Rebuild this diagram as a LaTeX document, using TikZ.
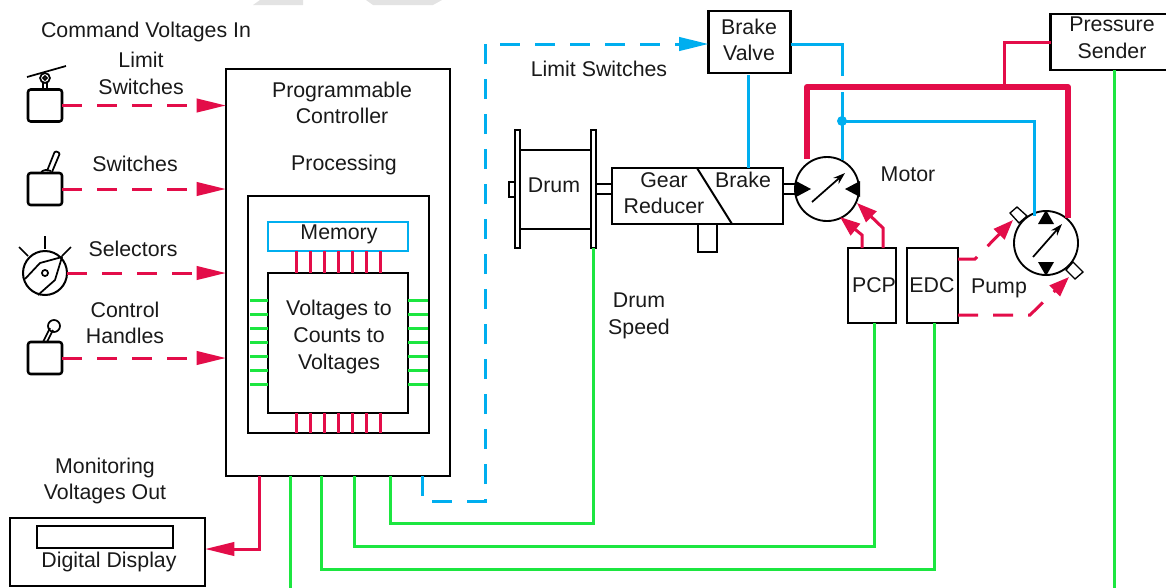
\documentclass[tikz,border=0pt]{standalone}
\usepackage{fontspec}
\setmainfont{Liberation Sans}
\usetikzlibrary{calc,arrows.meta}
\definecolor{wirered}{RGB}{227,13,73}
\definecolor{wireblue}{RGB}{0,174,239}
\definecolor{wiregreen}{RGB}{28,230,64}
\tikzset{
  lbl/.style={inner sep=0pt,align=center,font=\fontsize{16}{20}\selectfont,text=black!90},
  blk/.style={draw=black,line width=1.9pt,inner sep=0pt,outer sep=0pt,rectangle},
  thinblk/.style={draw=black,line width=1.3pt},
  redwire/.style={draw=wirered,line width=2.25pt},
  fatred/.style={draw=wirered,line width=4.5pt,line join=round},
  bluewire/.style={draw=wireblue,line width=2.25pt},
  greenwire/.style={draw=wiregreen,line width=2.25pt},
  longdash/.style={dash pattern=on 15pt off 11.25pt},
  bigtip/.style={-{Triangle[length=22pt,width=10pt]}},
  smalltip/.style={-{Triangle[length=15pt,width=11pt]}},
  hub/.style={circle,draw=black,line width=1.4pt,fill=white,minimum size=48pt,inner sep=0pt,outer sep=0pt},
  lever/.style={draw=black,line width=1.9pt,rounded corners=2pt,fill=white}
}
\begin{document}
\begin{tikzpicture}[x=0.75pt,y=-0.75pt]
\path[use as bounding box,clip] (0,0) rectangle (1166,587);
\fill[black!11] (253,5) -- (260,0) -- (303,0) -- (303,5) -- cycle;
\fill[black!11] (366,0) -- (373,5) -- (433,5) -- (442,0) -- cycle;

% controller
\node[blk,minimum width=168pt,minimum height=305.25pt] (ctrl) at (338,272.5) {};
\node[blk,minimum width=135.75pt,minimum height=177.75pt] (frame) at (338.5,314.5) {};
\node[blk,draw=wireblue,minimum width=105pt,minimum height=21.75pt] (mem) at (338,236.5) {};
\node[blk,minimum width=105pt,minimum height=105pt] (proc) at (338,343) {};
\foreach \i in {0,...,6}
{
\draw[redwire] (296+14*\i,251) -- (296+14*\i,273);
\draw[redwire] (296+14*\i,413) -- (296+14*\i,433);
\draw[greenwire] (250,300+14*\i) -- (268,300+14*\i);
\draw[greenwire] (408,300+14*\i) -- (428,300+14*\i);
}
\node[lbl] (progLbl) at (342,103) {Programmable\\Controller};
\node[lbl] (procLbl) at (344,165) {Processing};
\node[lbl] (memLbl) at (339,234) {Memory};
\node[lbl] (voltLbl) at (339,337) {Voltages to\\Counts to\\Voltages};

% inputs
\node[lever,minimum width=25.5pt,minimum height=24pt,inner sep=0pt,outer sep=0pt] (limitBox) at (45,105.5) {};
\node[lever,minimum width=25.5pt,minimum height=24pt,inner sep=0pt,outer sep=0pt] (switchBox) at (45,189) {};
\node[circle,draw=black,line width=1.5pt,minimum size=33pt,inner sep=0pt,outer sep=0pt] (selKnob) at (45,273) {};
\node[lever,minimum width=25.5pt,minimum height=24pt,inner sep=0pt,outer sep=0pt] (handleBox) at (45,358) {};
\foreach \src in {limitBox,switchBox,selKnob,handleBox}
{
\draw[redwire,longdash,bigtip] (\src.east) -- (\src.east -| ctrl.west);
}
% limit switch
\draw[thinblk] (43,89) -- (43,80) (47,89) -- (47,80);
\draw[thinblk,fill=white] (45,78) circle (3.7pt);
\draw[thinblk] (45,78) circle (1.4pt);
\draw[thinblk] (27,77) -- (66,66);
% toggle
\draw[thinblk,rounded corners=1pt] (47,171) -- (55,151) -- (60,153) -- (52,172);
\draw[thinblk] (41,173) .. controls (42,170) and (46,169) .. (51,171);
% selector
\draw[thinblk] (45,236) -- (45,249);
\draw[thinblk] (19,247) -- (28,256);
\draw[thinblk] (71,247) -- (62,256);
\draw[thinblk,line join=round] (25,279) -- (40,263) -- (62,257) -- (55,280) -- (38,295);
\draw[thinblk] (45,273) circle (2.3pt);
% handle
\draw[thinblk] (43,342) -- (50,328);
\draw[thinblk] (47,342) -- (53,330);
\draw[thinblk] (54,326) circle (4.5pt);
\node[lbl] (cmdLbl) at (146,32) {Command Voltages In};
\node[lbl] (limitLbl) at (141,73.5) {Limit\\Switches};
\node[lbl] (switchLbl) at (135,164) {Switches};
\node[lbl] (selLbl) at (133,249) {Selectors};
\node[lbl] (handleLbl) at (125,323) {Control\\Handles};

% display
\node[blk,minimum width=146.25pt,minimum height=51pt] (disp) at (107.5,552) {};
\node[blk,minimum width=102pt,minimum height=16.5pt] (dispWin) at (105,537) {};
\node[lbl] (dispLbl) at (109,562) {Digital Display};
\node[lbl] (monLbl) at (105,481) {Monitoring\\Voltages Out};
\coordinate (dispTurn) at (259,549);
\draw[redwire,bigtip] (ctrl.south -| dispTurn) -- (dispTurn) -- (disp.east |- dispTurn);

% drum and gear
\node[blk,line width=1.5pt,minimum width=3.75pt,minimum height=88.5pt] (spoolL) at (517.5,189) {};
\node[blk,line width=1.5pt,minimum width=3.75pt,minimum height=88.5pt] (spoolR) at (593,189) {};
\draw[blk] (spoolL.east |- 0,150) -- (spoolR.west |- 0,150);
\draw[blk] (spoolL.east |- 0,229) -- (spoolR.west |- 0,229);
\draw[blk,line width=1.4pt] (515,182) -- (509,182) -- (509,197) -- (515,197);
\node[lbl] (drumLbl) at (554,185) {Drum};
\node[blk,minimum width=128.25pt,minimum height=42pt] (gear) at (697.5,196) {};
\draw[blk,line width=1.5pt] (697,168) -- (732,224);
\node[lbl] (gearLbl) at (664,193) {Gear\\Reducer};
\node[lbl] (brakeLbl) at (743,180) {Brake};
\draw[blk] (spoolR.east |- 0,184) -- (gear.west |- 0,184);
\draw[blk] (spoolR.east |- 0,194) -- (gear.west |- 0,194);
\draw[blk] (698,224) -- (698,252) -- (717,252) -- (717,224);
\node[lbl] (speedLbl) at (639,316) {Drum\\Speed};

% motor and pump
\node[hub] (motor) at (827,189) {};
\draw[blk] (gear.east |- 0,184) -- (motor.west |- 0,184);
\draw[blk] (gear.east |- 0,194) -- (motor.west |- 0,194);
\node[hub] (pump) at (1046,243) {};
\fill[black] (796,181) -- (811,189) -- (796,197) -- cycle;
\fill[black] (860,181) -- (845,189) -- (860,197) -- cycle;
\fill[black] (1038,224) -- (1046,210) -- (1054,224) -- cycle;
\fill[black] (1038,262) -- (1046,276) -- (1054,262) -- cycle;
\draw[thinblk,-{Stealth[length=9pt,width=6pt]}] (812,202) -- (845,173);
\draw[thinblk,-{Stealth[length=9pt,width=6pt]}] (1033,257) -- (1062,224);
\draw[draw=black,line width=1pt,fill=white] (1010,213) -- (1017,207) -- (1027,216) -- (1019,223) -- cycle;
\draw[draw=black,line width=1pt,fill=white] (1066,270) -- (1073,262) -- (1083,272) -- (1075,279) -- cycle;
\node[lbl] (motorLbl) at (908,174) {Motor};
\node[lbl] (pumpLbl) at (999,288) {Pump};
\node[blk,minimum width=36pt,minimum height=56.25pt] (pcp) at (872,285.5) {};
\node[blk,minimum width=38.25pt,minimum height=56.25pt] (edc) at (932.5,285.5) {};
\node[lbl] (pcpLbl) at (874,285) {PCP};
\node[lbl] (edcLbl) at (932,285) {EDC};
\coordinate (pcpA) at (862,235);
\coordinate (pcpB) at (883,228);
\draw[redwire,smalltip] (pcp.north -| pcpA) -- (pcpA) -- (840,217);
\draw[redwire,smalltip] (pcp.north -| pcpB) -- (pcpB) -- (857,203);
\coordinate (edcA) at (975,259);
\coordinate (edcB) at (1030,315);
\draw[redwire,longdash,smalltip] (edc.east |- edcA) -- (edcA) -- (1013,220);
\draw[redwire,longdash,smalltip] (edc.east |- edcB) -- (edcB) -- (1069,277);

% top
\node[blk,minimum width=61.5pt,minimum height=46.5pt] (valve) at (749.5,42) {};
\node[lbl] (valveLbl) at (749,40) {Brake\\Valve};
\node[blk,minimum width=96pt,minimum height=42pt] (sender) at (1114.5,42) {};
\node[lbl] (senderLbl) at (1112,37.5) {Pressure\\Sender};
\node[lbl] (limit2Lbl) at (599,69) {Limit Switches};
\coordinate (dashA) at (422,501);
\coordinate (dashB) at (485,44);
\draw[bluewire,longdash,bigtip] (ctrl.south -| dashA) -- (dashA) -- (dashA -| dashB) -- (dashB) -- (valve.west |- dashB);
\coordinate (bleed) at (842,121);
\coordinate (brakeTap) at (748,75);
\draw[bluewire] (brakeTap) -- (brakeTap |- gear.north);
\draw[bluewire] (valve.east |- dashB) -- (bleed |- dashB) -- (842,76);
\draw[bluewire] (842,92) -- (bleed) -- (842,160);
\draw[bluewire] (bleed) -- (1034,121) -- (1034,216);
\fill[wireblue] (bleed) circle (3.75pt);
\coordinate (fatA) at (807,87);
\coordinate (fatB) at (1068,87);
\draw[fatred] (807,159) -- (fatA) -- (fatB) -- (1068,218);
\coordinate (tapA) at (1004,87);
\draw[redwire] (tapA) -- (tapA |- sender.west) -- (sender.west);

% green wires
\coordinate (drumTurn) at (390,523);
\draw[greenwire] (ctrl.south -| drumTurn) -- (drumTurn) -- (drumTurn -| spoolR.south) -- (spoolR.south);
\coordinate (pcpTurn) at (354,546);
\coordinate (pcpEnd) at (874,546);
\draw[greenwire] (ctrl.south -| pcpTurn) -- (pcpTurn) -- (pcpEnd) -- (pcpEnd |- pcp.south);
\coordinate (edcTurn) at (321,569);
\coordinate (edcEnd) at (934,569);
\draw[greenwire] (ctrl.south -| edcTurn) -- (edcTurn) -- (edcEnd) -- (edcEnd |- edc.south);
\coordinate (out) at (290,590);
\draw[greenwire] (ctrl.south -| out) -- (out);
\coordinate (senderOut) at (1114.5,590);
\draw[greenwire] (sender.south) -- (senderOut);
\end{tikzpicture}
\end{document}
